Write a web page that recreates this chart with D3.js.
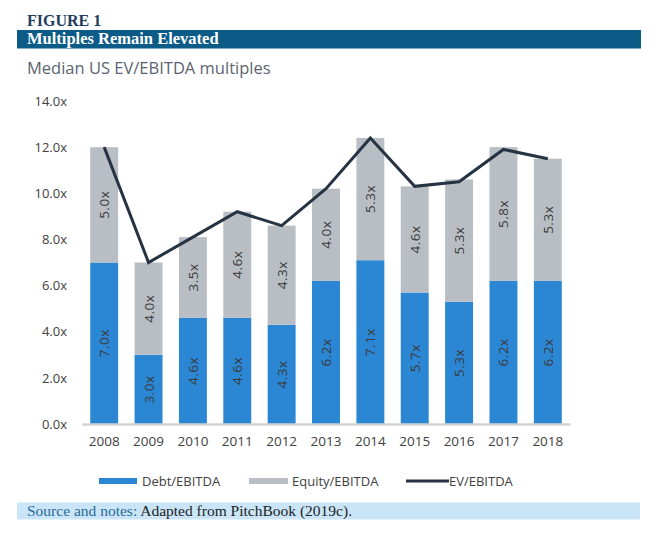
<!DOCTYPE html>
<html><head><meta charset="utf-8">
<script src="https://cdn.jsdelivr.net/npm/d3@7"></script>
<style>body{margin:0;background:#fff}svg{display:block}</style>
</head><body>
<svg id="c" width="656" height="534"></svg>
<script>
const years = ["2008","2009","2010","2011","2012","2013","2014","2015","2016","2017","2018"];
const debt = [7.0,3.0,4.6,4.6,4.3,6.2,7.1,5.7,5.3,6.2,6.2];
const equity = [5.0,4.0,3.5,4.6,4.3,4.0,5.3,4.6,5.3,5.8,5.3];
const ev = [12.0,7.0,8.1,9.2,8.6,10.2,12.4,10.3,10.5,11.9,11.5];
const yTicks = [0,2,4,6,8,10,12,14];
const seriesNames = ["Debt/EBITDA","Equity/EBITDA","EV/EBITDA"];

const svg = d3.select("#c");
const sans = "'Open Sans', sans-serif";
const serif = "'Liberation Serif', serif";

// header
svg.append("text").attr("x",27).attr("y",26).attr("font-family",serif).attr("font-weight","bold")
  .attr("font-size",16).attr("fill","#1e3d5e").text("FIGURE 1");
svg.append("rect").attr("x",17).attr("y",30).attr("width",624).attr("height",18.5).attr("fill","#0b5b86");
svg.append("text").attr("x",27).attr("y",44).attr("font-family",serif).attr("font-weight","bold")
  .attr("font-size",16.5).attr("fill","#fff").text("Multiples Remain Elevated");
svg.append("text").attr("x",27).attr("y",73.5).attr("font-family",sans)
  .attr("font-size",16.5).attr("fill","#5b6570").text("Median US EV/EBITDA multiples");

// scales
const x = d3.scaleBand().domain(years).range([82,570]).paddingInner(0.37).paddingOuter(0.185);
const y = d3.scaleLinear().domain([0,14]).range([424,101]);

// y axis labels
const yAxis = d3.axisLeft(y).tickValues(yTicks).tickFormat(d=>d3.format(".1f")(d)+"x").tickSize(0).tickPadding(0);
const ga = svg.append("g").attr("transform","translate(67,0)").call(yAxis);
ga.select(".domain").remove();
ga.selectAll("text").attr("font-family",sans).attr("font-size",13).attr("fill","#404040");

// bars
const colDebt = "#2b87d3", colEq = "#b9bec5";
const g = svg.append("g");
years.forEach((yr,i)=>{
  g.append("rect").attr("x",x(yr)).attr("width",x.bandwidth())
    .attr("y",y(debt[i])).attr("height",y(0)-y(debt[i])).attr("fill",colDebt);
  g.append("rect").attr("x",x(yr)).attr("width",x.bandwidth())
    .attr("y",y(debt[i]+equity[i])).attr("height",y(debt[i])-y(debt[i]+equity[i])).attr("fill",colEq);
});
// labels
years.forEach((yr,i)=>{
  const cx = x(yr)+x.bandwidth()/2;
  [[debt[i], debt[i]/2],[equity[i], debt[i]+equity[i]/2]].forEach(([v,c])=>{
    g.append("text").attr("transform",`translate(${cx},${y(c)}) rotate(-90)`)
      .attr("text-anchor","middle").attr("dominant-baseline","central")
      .attr("font-family",sans).attr("font-size",13.5).attr("letter-spacing","0.5px").attr("fill","#3a3a3a")
      .text(d3.format(".1f")(v)+"x");
  });
});

// x axis
const xAxis = d3.axisBottom(x).tickSize(0).tickPadding(0);
const gx = svg.append("g").attr("transform","translate(0,424)").call(xAxis);
gx.select(".domain").attr("stroke","#d2d2d2").attr("stroke-width",2.5);
gx.selectAll("text").attr("font-family",sans).attr("font-size",13.5).attr("fill","#404040").attr("dy","0").attr("y",22);

// line
const line = d3.line().x((d,i)=>x(years[i])+x.bandwidth()/2).y(d=>y(d));
svg.append("path").datum(ev).attr("d",line).attr("fill","none").attr("stroke","#263343").attr("stroke-width",3);

// legend
const lg = svg.append("g");
const ly = 481;
lg.append("rect").attr("x",99).attr("y",ly-3).attr("width",38).attr("height",6).attr("fill",colDebt);
lg.append("text").attr("x",142).attr("y",ly).attr("dominant-baseline","central").attr("font-family",sans).attr("font-size",13).attr("fill","#404040").text(seriesNames[0]);
lg.append("rect").attr("x",249).attr("y",ly-3).attr("width",39).attr("height",6).attr("fill",colEq);
lg.append("text").attr("x",292).attr("y",ly).attr("dominant-baseline","central").attr("font-family",sans).attr("font-size",13).attr("fill","#404040").text(seriesNames[1]);
lg.append("line").attr("x1",406).attr("x2",449).attr("y1",ly).attr("y2",ly).attr("stroke","#263343").attr("stroke-width",3);
lg.append("text").attr("x",449).attr("y",ly).attr("dominant-baseline","central").attr("font-family",sans).attr("font-size",13).attr("fill","#404040").text(seriesNames[2]);

// footer
svg.append("rect").attr("x",17).attr("y",502.5).attr("width",623).attr("height",17).attr("fill","#c9e5f7");
const ft = svg.append("text").attr("x",27).attr("y",515.5).attr("font-family",serif).attr("font-size",15.5);
ft.append("tspan").attr("fill","#2b6a97").text("Source and notes: ");
ft.append("tspan").attr("fill","#1e1e1e").text("Adapted from PitchBook (2019c).");
</script>
</body></html>
